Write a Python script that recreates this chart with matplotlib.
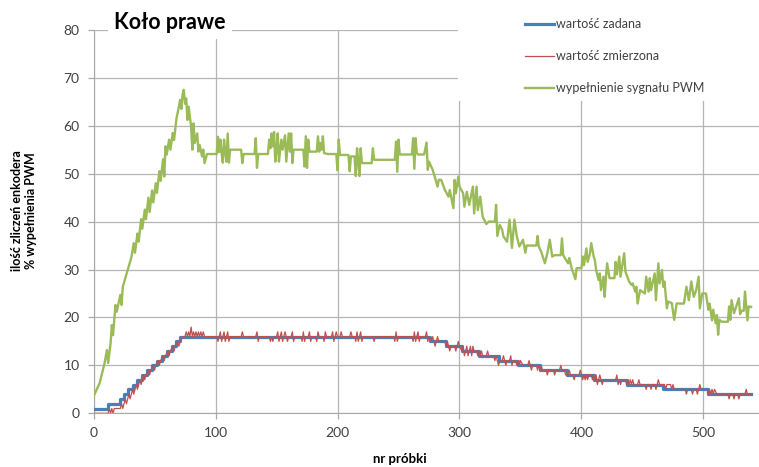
import matplotlib
matplotlib.use("Agg")
import matplotlib.pyplot as plt
from matplotlib.patches import Rectangle

plt.rcParams['font.family'] = ['Lato', 'DejaVu Sans']

# wartość zadana - poziomy schodków i numer próbki, od której obowiązują
set_start = [0, 12, 22, 25, 28, 32, 36, 40, 44, 48, 52, 56, 60, 64, 68, 71,
             276, 289, 302, 316, 332, 348, 366, 388, 410, 437, 467, 504, 539]
set_level = [1, 2, 3, 4, 5, 6, 7, 8, 9, 10, 11, 12, 13, 14, 15, 16,
             15, 14, 13, 12, 11, 10, 9, 8, 7, 6, 5, 4, 4]

# wartość zmierzona (nr próbki, wartość)
meas = [(0, 0), (12, 0), (13, 1), (14, 0), (15, 1), (16, 0), (17, 1), (22, 1), (23, 2), (24, 1),
        (25, 2), (26, 3), (27, 2), (28, 3), (29, 4), (30, 3), (31, 4), (32, 5), (33, 4), (34, 5),
        (35, 6), (36, 5), (37, 6), (38, 7), (39, 6), (40, 7), (41, 8), (42, 7), (43, 8), (45, 9),
        (46, 8), (47, 9), (49, 10), (50, 9), (51, 10), (53, 11), (54, 10), (55, 11), (57, 12), (58, 11),
        (59, 12), (61, 13), (62, 12), (63, 13), (65, 14), (66, 13), (67, 14), (69, 15), (70, 14), (71, 15),
        (73, 16), (75, 16), (76, 17), (77, 16), (78, 17), (79, 16), (80, 18), (81, 16), (82, 17), (83, 16),
        (84, 17), (85, 16), (86, 17), (87, 16), (88, 17), (89, 16), (90, 17), (91, 16),
        (101, 16), (102, 15), (103, 16), (104, 17), (105, 15), (106, 16), (107, 17), (108, 15), (109, 16),
        (110, 17), (111, 15), (112, 16), (121, 16), (122, 17), (123, 16), (133, 16), (134, 17), (135, 15),
        (136, 16), (144, 16), (145, 15), (146, 16), (147, 15), (148, 16), (150, 16), (151, 17), (152, 15),
        (153, 16), (154, 17), (155, 15), (156, 16), (157, 17), (158, 16), (159, 15), (160, 16), (162, 16),
        (163, 17), (164, 15), (165, 16), (170, 16), (171, 15), (172, 17), (173, 15), (174, 16), (176, 16),
        (177, 17), (178, 15), (179, 16), (182, 16), (183, 15), (184, 17), (185, 16), (188, 16), (189, 15),
        (190, 17), (191, 16), (195, 16), (196, 17), (197, 15), (198, 16), (199, 17), (200, 16), (202, 16),
        (203, 17), (204, 16), (210, 16), (211, 17), (212, 16), (214, 16), (215, 15), (216, 17), (217, 15),
        (218, 16), (219, 17), (220, 15), (221, 16), (229, 16), (230, 15), (231, 16), (246, 16), (247, 15),
        (248, 17), (249, 15), (250, 16), (261, 16), (262, 15), (263, 17), (264, 15), (265, 16), (266, 17),
        (267, 15), (268, 16), (272, 16), (273, 17), (274, 15), (275, 16),
        (277, 15), (278, 16), (279, 15), (280, 14), (281, 15), (282, 16), (283, 15), (288, 15), (289, 14),
        (290, 15), (291, 14), (292, 13), (293, 14), (296, 14), (297, 13), (298, 14), (299, 15), (300, 14),
        (302, 13), (303, 14), (304, 12), (305, 13), (306, 14), (307, 12), (308, 13), (309, 14), (310, 12),
        (311, 14), (312, 13), (314, 13), (315, 12), (316, 13), (317, 12), (318, 13), (319, 12), (322, 12),
        (323, 13), (324, 12), (328, 12), (329, 11), (330, 12), (331, 11), (332, 10), (333, 11), (335, 11),
        (336, 12), (337, 11), (338, 10), (339, 11), (341, 11), (342, 12), (343, 10), (344, 11), (346, 11),
        (347, 10), (348, 11), (349, 10), (350, 11), (352, 10), (356, 10), (357, 11), (358, 10), (359, 9),
        (360, 10), (363, 10), (364, 9), (365, 10), (366, 9), (367, 10), (368, 9), (371, 9), (372, 8),
        (373, 9), (377, 9), (378, 8), (379, 9), (382, 9), (383, 10), (384, 9), (386, 9), (387, 8),
        (389, 8), (390, 9), (391, 8), (393, 8), (394, 7), (395, 8), (398, 8), (399, 9), (400, 8),
        (401, 7), (402, 8), (403, 7), (404, 8), (405, 7), (406, 8), (408, 8), (409, 7), (410, 8),
        (411, 7), (412, 8), (413, 6), (414, 7), (415, 8), (416, 7), (417, 6), (418, 7), (428, 7),
        (429, 8), (430, 6), (431, 7), (432, 6), (433, 7), (436, 7), (437, 6), (438, 7), (439, 6),
        (440, 7), (441, 6), (442, 7), (443, 6), (446, 6), (447, 7), (448, 6), (452, 6), (453, 5),
        (454, 6), (456, 6), (457, 5), (458, 6), (460, 6), (461, 5), (462, 6), (463, 7), (464, 6),
        (468, 6), (469, 5), (470, 6), (473, 6), (474, 5), (475, 6), (476, 5), (485, 5), (486, 4),
        (487, 5), (490, 5), (491, 4), (492, 5), (494, 5), (495, 4), (496, 5), (497, 6), (498, 5),
        (503, 5), (504, 4), (505, 5), (506, 4), (507, 5), (508, 4), (509, 5), (511, 4), (520, 4),
        (521, 3), (522, 4), (524, 4), (525, 3), (526, 4), (528, 4), (529, 3), (530, 4), (534, 4),
        (535, 5), (536, 4), (539, 4)]

# wypełnienie sygnału PWM (nr próbki, %)
pwm = [(0, 3.5), (5, 6.3), (9, 10.4), (11, 13.2), (12, 10.5), (14, 14.6), (15, 18.4), (16, 16.3),
       (18, 22.6), (19, 21.2), (22, 24.7), (23, 22.6), (24, 26.4), (28, 29.9), (31, 32.5), (33, 35.5),
       (34, 33.5), (36, 37.5), (37, 35.8), (39, 40.5), (40, 38.5), (42, 42.5), (43, 40.5), (45, 45.0),
       (46, 42.0), (48, 46.5), (49, 44.0), (51, 48.0), (52, 46.0), (54, 50.5), (55, 48.5), (57, 53.0),
       (58, 49.4), (59, 55.7), (60, 54.0), (62, 57.1), (63, 55.0), (65, 58.5), (66, 57.0), (68, 61.5),
       (70, 64.0), (71, 65.4), (72, 63.5), (73, 66.5), (74, 67.5), (75, 64.6), (76, 65.7), (77, 61.2),
       (78, 64.0), (80, 59.8), (81, 55.0), (82, 60.5), (83, 56.4), (85, 58.4), (86, 54.6), (87, 56.0),
       (89, 53.6), (90, 55.0), (91, 52.2), (93, 54.1), (101, 54.1), (102, 57.7), (103, 54.5),
       (104, 57.1), (105, 54.3), (106, 52.3), (107, 57.1), (108, 54.5), (109, 52.5), (110, 58.4),
       (111, 52.3), (112, 55.0), (121, 55.0), (122, 52.2), (123, 54.1), (132, 54.1), (133, 57.4),
       (134, 51.2), (135, 54.1), (143, 54.1), (144, 57.1), (145, 55.3), (146, 58.4), (147, 55.7),
       (148, 58.7), (149, 52.5), (150, 55.0), (151, 58.4), (152, 52.5), (153, 55.0), (154, 57.1),
       (155, 55.0), (157, 58.0), (158, 52.5), (160, 58.4), (161, 54.6), (162, 58.4), (163, 52.2),
       (164, 55.0), (172, 55.0), (173, 51.5), (174, 57.8), (175, 51.2), (176, 57.1), (177, 54.6),
       (183, 54.6), (184, 57.8), (185, 54.6), (186, 56.4), (187, 55.0), (188, 57.8), (189, 54.3),
       (192, 54.1), (199, 54.1), (200, 50.7), (201, 57.1), (202, 53.9), (209, 53.9), (210, 50.5),
       (211, 53.6), (214, 53.6), (215, 49.5), (216, 55.3), (217, 52.9), (218, 49.5), (219, 55.3),
       (220, 52.2), (228, 52.2), (229, 55.3), (230, 52.9), (247, 52.9), (248, 56.7), (249, 50.4),
       (250, 57.1), (251, 54.0), (261, 54.0), (262, 57.4), (263, 51.0), (264, 57.4), (265, 54.3),
       (266, 54.0), (271, 54.0), (273, 56.5), (274, 50.8), (275, 52.5), (278, 50.8), (280, 49.1),
       (282, 47.3), (283, 48.7), (285, 48.7), (288, 46.6), (291, 45.2), (292, 46.6), (295, 42.8),
       (296, 48.7), (297, 45.9), (299, 49.4), (300, 47.3), (303, 45.9), (304, 43.1), (306, 46.2),
       (308, 43.5), (311, 47.3), (312, 41.7), (314, 47.3), (315, 42.4), (317, 45.2), (319, 41.0),
       (322, 39.5), (324, 40.0), (329, 40.0), (330, 43.5), (331, 37.0), (333, 39.3), (335, 38.3),
       (336, 36.9), (339, 35.8), (341, 40.4), (343, 34.5), (345, 40.4), (347, 36.9), (349, 34.8),
       (352, 36.2), (354, 33.5), (355, 35.0), (363, 35.0), (364, 37.0), (365, 34.8), (367, 33.7),
       (370, 31.3), (372, 33.4), (374, 36.2), (376, 32.7), (378, 33.0), (383, 33.0), (384, 36.5),
       (385, 33.0), (389, 31.3), (390, 32.4), (392, 30.2), (395, 28.0), (396, 30.3), (400, 30.3),
       (401, 32.7), (402, 30.9), (404, 34.4), (405, 31.6), (407, 33.4), (408, 35.5), (410, 32.7),
       (411, 31.9), (412, 29.9), (414, 27.8), (415, 29.2), (416, 25.7), (418, 28.5), (419, 24.3),
       (420, 28.2), (421, 31.3), (423, 28.2), (427, 28.2), (428, 31.6), (429, 29.0), (431, 32.7),
       (432, 28.5), (435, 33.4), (436, 29.6), (439, 27.5), (441, 26.8), (442, 27.1), (444, 25.4),
       (445, 26.4), (446, 22.9), (448, 25.7), (452, 25.0), (453, 28.5), (455, 25.4), (456, 28.2),
       (457, 25.7), (460, 29.2), (461, 23.6), (463, 31.3), (464, 27.1), (466, 29.9), (467, 26.4),
       (468, 27.5), (470, 21.9), (471, 23.3), (474, 23.0), (476, 19.5), (478, 22.9), (484, 22.9),
       (486, 26.4), (488, 23.6), (490, 27.5), (492, 24.3), (494, 25.7), (496, 28.5), (497, 21.9),
       (499, 25.0), (502, 25.0), (504, 21.6), (505, 22.9), (507, 19.4), (508, 21.6), (510, 18.8),
       (511, 20.5), (512, 16.4), (513, 19.5), (515, 19.1), (520, 19.1), (521, 22.3), (522, 19.5),
       (523, 23.6), (525, 20.9), (526, 21.6), (529, 24.0), (530, 20.7), (531, 21.4), (533, 21.4),
       (534, 25.4), (536, 19.4), (537, 22.3), (539, 22.2)]

labels = ["wartość zadana", "wartość zmierzona", "wypełnienie sygnału PWM"]
colors = ["#4A7EBB", "#C0504D", "#9BBB59"]

fig = plt.figure(figsize=(7.59, 4.67), dpi=100)
ax = fig.add_axes([0.1232, 0.115, 0.8768, 0.821])

meas_x, meas_y = zip(*meas)
pwm_x, pwm_y = zip(*pwm)

l1, = ax.plot(set_start, set_level, drawstyle="steps-post", color=colors[0], lw=2.3, zorder=3)
l2, = ax.plot(meas_x, meas_y, color=colors[1], lw=0.9, zorder=4)
l3, = ax.plot(pwm_x, pwm_y, color=colors[2], lw=1.7, zorder=3)

ax.set_xlim(0, 545.5)
ax.set_ylim(0, 80)
ax.set_xticks(range(0, 501, 100))
ax.set_yticks(range(0, 81, 10))
ax.grid(True, color="#b4b4b4", lw=0.9, zorder=1)
ax.set_axisbelow(True)
for side in ["top", "right"]:
    ax.spines[side].set_visible(False)
for side in ["left", "bottom"]:
    ax.spines[side].set_color("#a8a8a8")
ax.tick_params(colors="#a8a8a8", labelcolor="#404040", labelsize=10, length=4, width=0.9)
ax.tick_params(axis="y", pad=6)
ax.tick_params(axis="x", pad=6)

# białe tło pod legendą i tytułem zasłania siatkę jak w oryginale
ax.add_patch(Rectangle((458 / 759, 1 - 101 / 467), 1, 1, transform=fig.transFigure,
                       facecolor="white", edgecolor="none", zorder=2, clip_on=False))
ax.add_patch(Rectangle((108 / 759, 1 - 39 / 467), 124 / 759, 39 / 467, transform=fig.transFigure,
                       facecolor="white", edgecolor="none", zorder=2, clip_on=False))

fig.text(0.223, 0.951, "Koło prawe", fontsize=15.5, fontweight="bold", ha="center", va="center")

fig.legend([l1, l2, l3], labels, loc="upper left", bbox_to_anchor=(514 / 759, 1 - 7 / 467),
           frameon=False, fontsize=9, handlelength=2.3, handletextpad=0.2,
           labelspacing=1.6, labelcolor="#404040")

fig.text(0.032, 0.55, "ilość zliczeń enkodera\n% wypełnienia PWM", rotation=90,
         fontsize=9, fontweight="bold", ha="center", va="center", multialignment="center")
fig.text(0.527, 0.004, "nr próbki", fontsize=9.5, fontweight="bold", ha="center", va="bottom")

fig.savefig("out.png", dpi=100)
